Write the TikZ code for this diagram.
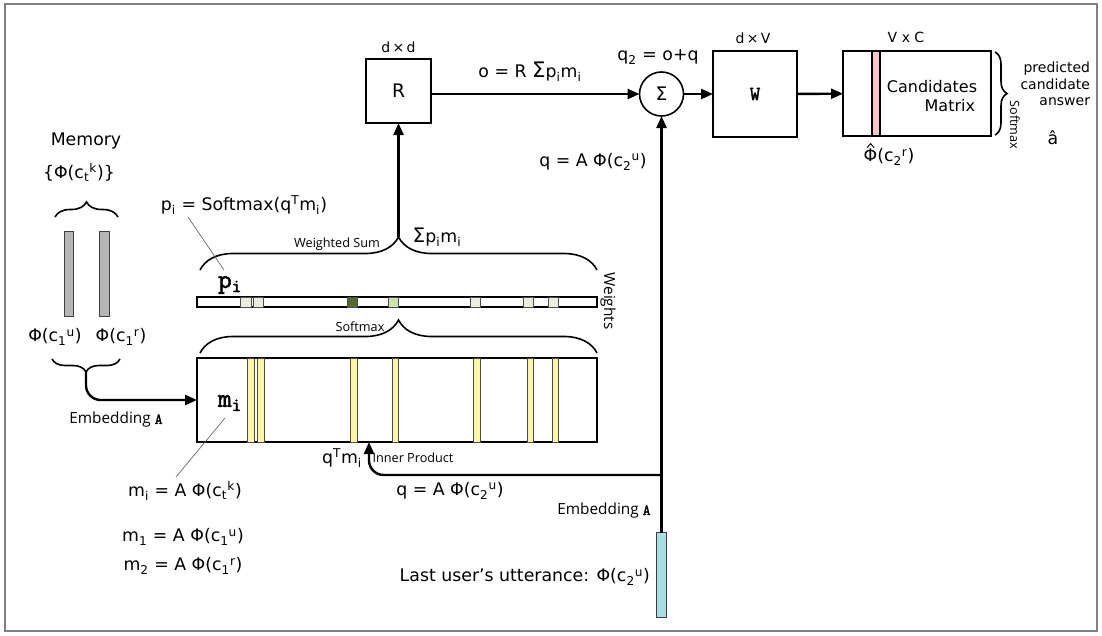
\documentclass[tikz,border=0pt]{standalone}
\usepackage{fontspec}
\setmainfont{DejaVu Sans}
\newfontfamily\labfont{Open Sans}
\newfontfamily\monob[FakeBold=2.2]{Latin Modern Mono}
\usetikzlibrary{arrows.meta,decorations.pathreplacing,calc}
\definecolor{wl}{HTML}{E9EFDC}
\definecolor{wd}{HTML}{58692E}
\definecolor{wm}{HTML}{D0E2B0}
\definecolor{ystrip}{HTML}{FBF6A1}
\definecolor{pinkstrip}{HTML}{F6C6C6}
\definecolor{cyanbar}{HTML}{A8DDE3}
\definecolor{graybar}{HTML}{B5B5B5}
\definecolor{framegray}{HTML}{808080}
\begin{document}
\begin{tikzpicture}[x=0.75pt,y=-0.75pt,
  every node/.style={inner sep=0pt, outer sep=0pt},
  txt/.style={font=\fontsize{13}{15}\selectfont},
  small/.style={font=\fontsize{10.5}{12}\selectfont},
  lab/.style={font=\labfont\fontsize{9.5}{11}\selectfont},
  emb/.style={font=\labfont\fontsize{11.5}{13}\selectfont},
  mono/.style={font=\monob\fontsize{20}{22}\selectfont},
  blk/.style={draw=black, line width=1.2pt, fill=white},
  arr/.style={line width=1.8pt, -{Triangle[length=9pt,width=7.5pt]}},
  brc/.style={line width=1.2pt, decorate, decoration={brace, amplitude=#1}},
  leader/.style={draw=black!60, line width=0.5pt},
  strip/.style={draw=black!70, line width=0.6pt, fill=ystrip},
  cell/.style={draw=black!70, line width=0.6pt},
  vbar/.style={draw=black!75, line width=0.7pt, minimum width=7pt, minimum height=63.75pt},
]
\useasboundingbox (0,0) rectangle (1102,635);
\draw[draw=framegray, line width=1.5pt] (5,4) rectangle (1097,631);

% ---- top row
\node[blk, minimum width=48.75pt, minimum height=48pt, font=\fontsize{14}{16}\selectfont] (R) at (398.5,91) {R};
\node[small] (Rdim) at (398.5,47) {d\,×\,d};
\node[blk, circle, minimum size=33pt, font=\fontsize{14}{16}\selectfont] (sig) at (661.5,94) {Σ};
\node[blk, minimum width=63pt, minimum height=64.5pt, font=\monob\fontsize{15}{17}\selectfont] (W) at (755,94) {W};
\node[small] (Wdim) at (753,38) {d\,×\,V};
\node[blk, minimum width=111pt, minimum height=63.75pt] (C) at (917,93.5) {};
\draw[draw=black, line width=0.8pt, fill=pinkstrip] (872,51) rectangle (880,136);
\node[small] (Cdim) at (906,37) {V x C};
\node[font=\fontsize{12}{14}\selectfont] (Ct1) at (932,87) {Candidates};
\node[font=\fontsize{12}{14}\selectfont, anchor=east] (Ct2) at (975,106) {Matrix};
\node[txt] (phih) at (889,157) {Φ(c\textsubscript{2}\textsuperscript{r})};
\draw[line width=0.7pt, line join=miter] ($(phih.north west)+(3.5,-1)$) -- ++(3.5,-4) -- ++(3.5,4);

\draw[arr] (R.east |- sig.west) -- (sig.west);
\draw[arr] (sig) -- (W);
\draw[arr] (W) -- (C);

\node[txt] (oeq) at (530,72) {o = R {\fontsize{16}{16}\selectfont Σ}p\textsubscript{i}m\textsubscript{i}};
\node[txt] (q2) at (658,57) {q\textsubscript{2} = o+q};
\node[txt] (qtop) at (593,162) {q = A Φ(c\textsubscript{2}\textsuperscript{u})};

% right brace
\draw[brc=9pt] (995,52) -- (995,135);
\node[lab, rotate=-90] (smx2) at (1015,125) {Softmax};
\node[font=\fontsize{10.5}{12.5}\selectfont, align=right, anchor=east] (pred) at (1090,84) {predicted\\candidate\\answer};
\node[txt] (ahat) at (1053,138) {\^a};

% ---- memory
\node[txt] (memt) at (86,141) {Memory};
\node[txt] (memset) at (79,172) {\{Φ(c\textsubscript{t}\textsuperscript{k})\}};
\draw[brc=11.25pt] (55,217) -- (118,217);
\node[vbar, fill=graybar] (G1) at (69,273.5) {};
\node[vbar, fill=graybar] (G2) at (104.5,273.5) {};
\node[txt] (g1l) at (55,337) {Φ(c\textsubscript{1}\textsuperscript{u})};
\node[txt] (g2l) at (121,337) {Φ(c\textsubscript{1}\textsuperscript{r})};
\draw[brc=9.75pt] (120,359) -- (52,359);
\coordinate (MT) at (86,372);
\node[emb] (embL) at (116,420) {Embedding {\monob A}};

% ---- memory matrix
\node[blk, minimum width=300pt, minimum height=63pt] (M) at (397,400) {};
\foreach \a/\b in {247/254,257/264,350/357,392/398,473/480,527/533,552/558}
  \draw[strip] (\a,358) rectangle (\b,442);
\node[mono] (mi) at (230,403) {m\textsubscript{i}};
\draw[arr, rounded corners=11pt] (MT) |- (M.west);

% ---- weights
\node[blk, line width=0.9pt, minimum width=300pt, minimum height=7.5pt] (P) at (397,302) {};
\foreach \a/\b/\c in {240/251/wl,253/263/wl,347/357/wd,388/398/wm,470/480/wl,523/533/wl,548/558/wl}
  \draw[cell, fill=\c] (\a,297) rectangle (\b,307);
\node[mono] (pi) at (230,285) {p\textsubscript{i}};
\node[font=\labfont\fontsize{11.5}{13}\selectfont, rotate=-90] (wts) at (608,301) {Weights};

\draw[brc=24.75pt] (200,270) -- (597,270);
\coordinate (WT) at (398.5,237);
\draw[arr] (WT) -- (R.south);
\node[lab] (wsum) at (337,244) {Weighted Sum};
\node[txt] (spm) at (437,237) {{\fontsize{15}{15}\selectfont Σ}p\textsubscript{i}m\textsubscript{i}};

\draw[brc=24.75pt] (200,353) -- (597,353);
\node[lab] (smx) at (360,327) {Softmax};

\node[txt] (peq) at (244,205) {p\textsubscript{i} = Softmax(q\textsuperscript{T}m\textsubscript{i})};
\coordinate (pl1) at (188,217);
\coordinate (pl2) at (224,270);
\draw[leader] (pl1) -- (pl2);

\node[txt] (meq) at (185,491) {m\textsubscript{i} = A Φ(c\textsubscript{t}\textsuperscript{k})};
\coordinate (ml1) at (225,418);
\coordinate (ml2) at (176,477);
\draw[leader] (ml1) -- (ml2);
\node[txt] (m1) at (183,537) {m\textsubscript{1} = A Φ(c\textsubscript{1}\textsuperscript{u})};
\node[txt] (m2) at (183,566) {m\textsubscript{2} = A Φ(c\textsubscript{1}\textsuperscript{r})};

% ---- query
\node[vbar, fill=cyanbar] (U) at (661.5,575) {};
\draw[arr] (U) -- (sig);
\coordinate (J) at (661.5,475);
\coordinate (IP) at (369,442);
\draw[arr, rounded corners=11pt] (J) -| (IP);
\node[txt] (qtm) at (342,458) {q\textsuperscript{T}m\textsubscript{i}};
\node[lab] (inner) at (413,458) {Inner Product};
\node[txt] (qbot) at (450,491) {q = A Φ(c\textsubscript{2}\textsuperscript{u})};
\node[emb] (embR) at (604,511) {Embedding {\monob A}};
\node[txt, anchor=east] (last) at (650,577) {Last user’s utterance: Φ(c\textsubscript{2}\textsuperscript{u})};
\end{tikzpicture}
\end{document}
